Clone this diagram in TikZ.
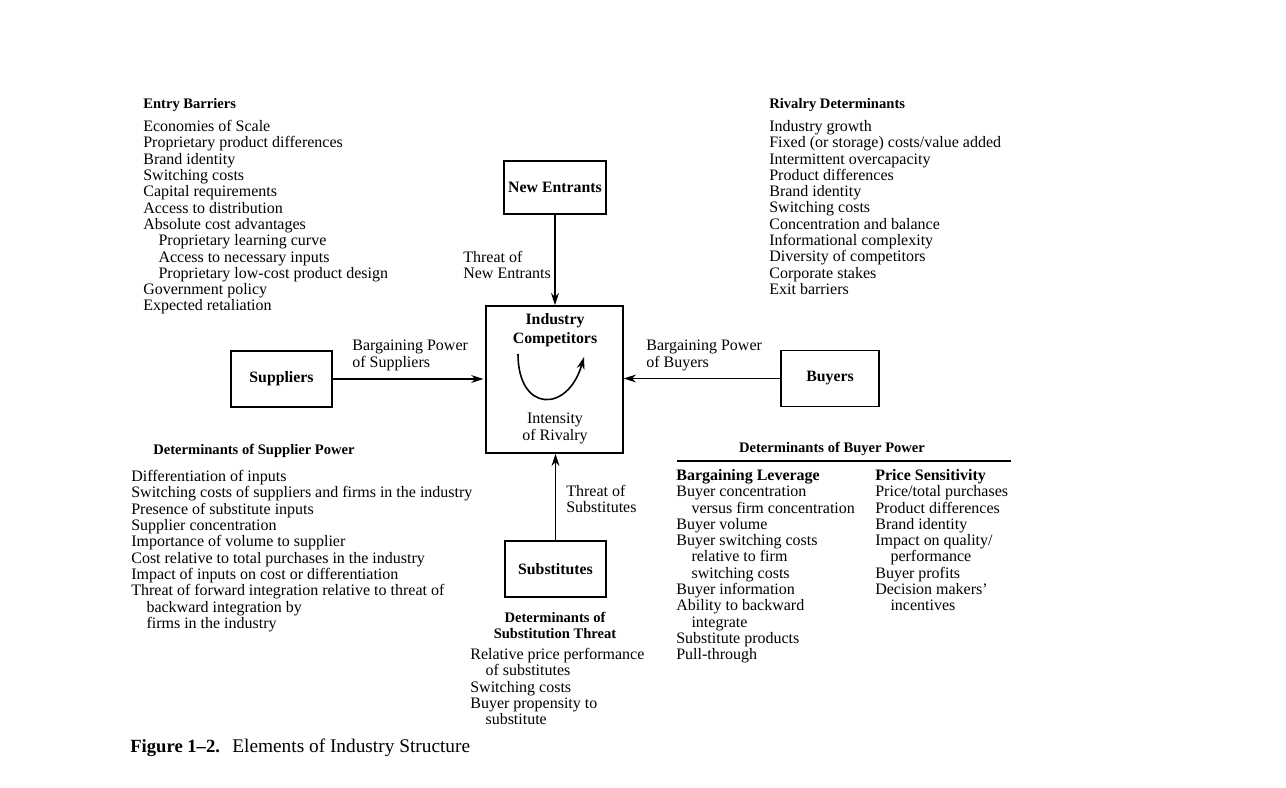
\documentclass[tikz,border=0pt]{standalone}
\usepackage{fontspec}
\setmainfont{Liberation Serif}
\usetikzlibrary{arrows.meta}

\tikzset{
  force/.style={draw, line width=0.9pt, inner sep=0pt, font=\bfseries\fontsize{9}{10}\selectfont},
  plain/.style={anchor=north west, inner sep=0pt, align=left, font=\fontsize{9.1}{9.28}\selectfont},
  head/.style={anchor=north west, inner sep=0pt, font=\bfseries\fontsize{8.3}{9.28}\selectfont},
  push/.style={line width=0.9pt, -{Stealth[length=7pt,width=4.5pt]}}
}
\newcommand{\indentline}{\hspace*{0.95em}}

\begin{document}
\begin{tikzpicture}[x=0.02cm, y=-0.02cm]
\useasboundingbox (0,0) rectangle (1286,788);

% the five forces
\node[force, minimum width=2.04cm, minimum height=1.06cm] (entrants) at (555,187.5) {New Entrants};
\node[force, minimum width=2.74cm, minimum height=2.94cm] (rivals) at (554.5,379.5) {};
\node[force, minimum width=2.02cm, minimum height=1.12cm] (suppliers) at (281.5,379) {Suppliers};
\node[force, minimum width=1.96cm, minimum height=1.12cm] (buyers) at (830,378.5) {Buyers};
\node[force, minimum width=2.02cm, minimum height=1.12cm] (substitutes) at (555.5,569) {Substitutes};

% inside the rivalry box
\node[font=\bfseries\fontsize{9}{10.8}\selectfont, align=center, inner sep=0pt, anchor=north] (rivtitle) at (555,313) {Industry\\Competitors};
\node[plain, anchor=north, align=center] (intensity) at (555,413) {Intensity\\of Rivalry};
\draw[push] (518,354) .. controls (518,413) and (568,413) .. (584,357);

% arrows into the box
\draw[push] (entrants.south) -- (entrants.south |- rivals.north);
\draw[push, shorten >=1pt] (suppliers.east) -- (rivals.west |- suppliers.east);
\draw[push] (buyers.west) -- (rivals.east |- buyers.west);
\draw[push] (substitutes.north) -- (substitutes.north |- rivals.south);

\node[plain] (threatnew) at (463,251) {Threat of\\New Entrants};
\node[plain] (bpsup) at (352,340) {Bargaining Power\\of Suppliers};
\node[plain] (bpbuy) at (646,340) {Bargaining Power\\of Buyers};
\node[plain] (threatsub) at (566,485) {Threat of\\Substitutes};

% Entry barriers
\node[head] (entryhead) at (143,98) {Entry Barriers};
\node[plain] (entrylist) at (143,120) {Economies of Scale\\
Proprietary product differences\\
Brand identity\\
Switching costs\\
Capital requirements\\
Access to distribution\\
Absolute cost advantages\\
\indentline Proprietary learning curve\\
\indentline Access to necessary inputs\\
\indentline Proprietary low-cost product design\\
Government policy\\
Expected retaliation};

% Rivalry determinants
\node[head] (rivalhead) at (769,98) {Rivalry Determinants};
\node[plain] (rivallist) at (769,120) {Industry growth\\
Fixed (or storage) costs/value added\\
Intermittent overcapacity\\
Product differences\\
Brand identity\\
Switching costs\\
Concentration and balance\\
Informational complexity\\
Diversity of competitors\\
Corporate stakes\\
Exit barriers};

% Supplier power
\node[head] (suphead) at (153,444) {Determinants of Supplier Power};
\node[plain] (suplist) at (131,470) {Differentiation of inputs\\
Switching costs of suppliers and firms in the industry\\
Presence of substitute inputs\\
Supplier concentration\\
Importance of volume to supplier\\
Cost relative to total purchases in the industry\\
Impact of inputs on cost or differentiation\\
Threat of forward integration relative to threat of\\
\indentline backward integration by\\
\indentline firms in the industry};

% Buyer power
\node[head, anchor=north] (buyhead) at (832,442) {Determinants of Buyer Power};
\coordinate (ruleL) at (677,461);
\coordinate (ruleR) at (1011,461);
\draw[line width=0.9pt] (ruleL) -- (ruleR);
\node[plain] (leverage) at (676,469) {\textbf{Bargaining Leverage}\\
Buyer concentration\\
\indentline versus firm concentration\\
Buyer volume\\
Buyer switching costs\\
\indentline relative to firm\\
\indentline switching costs\\
Buyer information\\
Ability to backward\\
\indentline integrate\\
Substitute products\\
Pull-through};
\node[plain] (sensitivity) at (875,469) {\textbf{Price Sensitivity}\\
Price/total purchases\\
Product differences\\
Brand identity\\
Impact on quality/\\
\indentline performance\\
Buyer profits\\
Decision makers'\\
\indentline incentives};

% Substitution threat
\node[head, anchor=north, align=center] (subhead) at (555,612) {Determinants of\\Substitution Threat};
\node[plain] (sublist) at (470,648) {Relative price performance\\
\indentline of substitutes\\
Switching costs\\
Buyer propensity to\\
\indentline substitute};

% caption
\node[anchor=west, inner sep=0pt, font=\bfseries\fontsize{10.6}{12}\selectfont] (fignum) at (130,748) {Figure 1--2.};
\node[anchor=west, inner sep=0pt, font=\fontsize{11}{12}\selectfont] (figtitle) at (232,748) {Elements of Industry Structure};

\end{tikzpicture}
\end{document}
